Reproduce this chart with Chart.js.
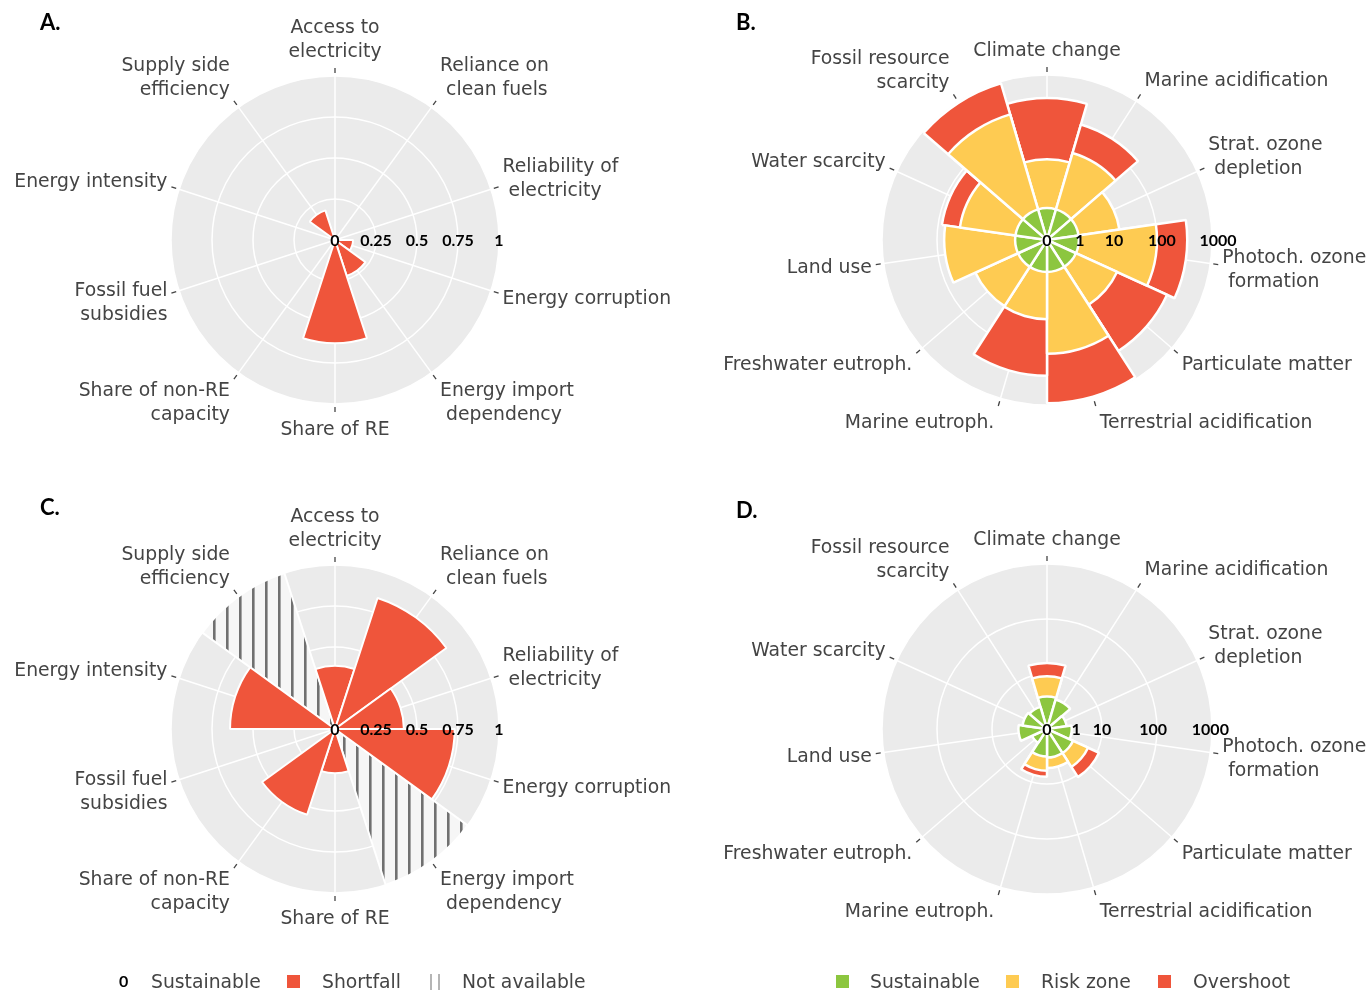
<!DOCTYPE html>
<html>
<head>
<meta charset="utf-8">
<title>Energy and environmental doughnut indicators</title>
<script src="https://cdn.jsdelivr.net/npm/chart.js@4.4.1/dist/chart.umd.min.js"></script>
<style>
  html, body { margin: 0; padding: 0; background: #fff; }
  #page { position: relative; width: 1368px; height: 992px; overflow: hidden; background: #fff; }
  canvas.panel { position: absolute; }
  .tag { position: absolute; font: 700 22px Lato, sans-serif; color: #000; }
  .lg { position: absolute; top: 971px; height: 24px; line-height: 24px; font: 18.8px "DejaVu Sans", sans-serif; color: #444; white-space: nowrap; }
  .sq { position: absolute; top: 975px; width: 13px; height: 13px; }
  .zero { position: absolute; top: 971px; line-height: 24px; font: 700 16px Lato, sans-serif; color: #000; }
  .bar { position: absolute; top: 974px; width: 2px; height: 16px; background: #b5b5b5; }
</style>
</head>
<body>
<div id="page">
  <canvas id="chartA" class="panel" width="684" height="496" style="left:0;top:0"></canvas>
  <canvas id="chartB" class="panel" width="684" height="496" style="left:684px;top:0"></canvas>
  <canvas id="chartC" class="panel" width="684" height="496" style="left:0;top:496px"></canvas>
  <canvas id="chartD" class="panel" width="684" height="496" style="left:684px;top:496px"></canvas>

  <div class="tag" style="left:40px;top:8px">A.</div>
  <div class="tag" style="left:736px;top:8px">B.</div>
  <div class="tag" style="left:40px;top:493px">C.</div>
  <div class="tag" style="left:736px;top:496px">D.</div>

  <div class="zero" style="left:119px">0</div>
  <div class="lg" style="left:151px">Sustainable</div>
  <div class="sq" style="left:287px;background:#ef553b"></div>
  <div class="lg" style="left:322px">Shortfall</div>
  <div class="bar" style="left:430px"></div>
  <div class="bar" style="left:438px"></div>
  <div class="lg" style="left:462px">Not available</div>

  <div class="sq" style="left:836px;background:#8cc63f"></div>
  <div class="lg" style="left:870px">Sustainable</div>
  <div class="sq" style="left:1006px;background:#fecb52"></div>
  <div class="lg" style="left:1041px">Risk zone</div>
  <div class="sq" style="left:1158px;background:#ef553b"></div>
  <div class="lg" style="left:1193px">Overshoot</div>
</div>

<script>
// ---- Energy indicators (panels A and C), scale 0..1, clockwise from the top ----
const energyCategories = [
  ['Access to', 'electricity'],
  ['Reliance on', 'clean fuels'],
  ['Reliability of', 'electricity'],
  ['Energy corruption'],
  ['Energy import', 'dependency'],
  ['Share of RE'],
  ['Share of non-RE', 'capacity'],
  ['Fossil fuel', 'subsidies'],
  ['Energy intensity'],
  ['Supply side', 'efficiency']
];
const shortfallA = [0, 0, 0, 0.11, 0.23, 0.63, 0, 0, 0, 0.19];
const shortfallC = [0.385, 0.84, 0.42, 0.73, 0, 0.27, 0.55, 0, 0.64, 0];
const notAvailableC = [0, 0, 0, 0, 1, 0, 0, 0, 0, 1];
const energyGrid = [0, 0.25, 0.5, 0.75, 1];
const energyTickPos = [0, 0.25, 0.5, 0.75, 1];
const energyTickText = ['0', '0.25', '0.5', '0.75', '1'];

// ---- Environmental impact indicators (panels B and D) ----
// Radial levels: 0.5 -> 1, 1 -> 10, 2 -> 100, 3 -> 1000
const impactCategories = [
  ['Climate change'],
  ['Marine acidification'],
  ['Strat. ozone', 'depletion'],
  ['Photoch. ozone', 'formation'],
  ['Particulate matter'],
  ['Terrestrial acidification'],
  ['Marine eutroph.'],
  ['Freshwater eutroph.'],
  ['Land use'],
  ['Water scarcity'],
  ['Fossil resource', 'scarcity']
];
const sustainableB = [0.58, 0.58, 0.58, 0.58, 0.58, 0.58, 0.58, 0.58, 0.58, 0.58, 0.58];
const riskB        = [1.47, 1.65, 1.33, 2.0, 1.4, 2.07, 1.44, 1.43, 1.87, 1.6, 2.38];
const overshootB   = [2.58, 2.19, 0, 2.55, 2.4, 2.97, 2.47, 0, 0, 1.93, 2.97];

const sustainableD = [0.59, 0.56, 0.36, 0.45, 0.52, 0.52, 0.5, 0.3, 0.52, 0.45, 0.42];
const riskD        = [0.96, 0, 0, 0, 0.82, 0.71, 0.76, 0, 0, 0, 0];
const overshootD   = [1.2, 0, 0, 0, 1.04, 0, 0.87, 0, 0, 0, 0];

const impactGrid = [0, 1, 2, 3];
const impactTickText = ['0', '1', '10', '100', '1000'];
const impactTickPosB = [0, 0.6, 1.22, 2.09, 3.11];
const impactTickPosD = [0, 0.53, 1.0, 1.93, 2.97];

const RED = '#ef553b', YELLOW = '#fecb52', GREEN = '#8cc63f', DISC = '#ebebeb';

function hatchPattern() {
  const c = document.createElement('canvas');
  c.width = 13; c.height = 13;
  const g = c.getContext('2d');
  g.fillStyle = '#f6f6f6';
  g.fillRect(0, 0, 13, 13);
  g.fillStyle = '#707070';
  g.fillRect(5, 0, 2.6, 13);
  return g.createPattern(c, 'repeat');
}

// Spokes through the middle of each sector, outer ticks, category labels
// and the radial value labels laid along the east direction.
const polarDecor = {
  id: 'polarDecor',
  beforeDatasetsDraw(chart) {
    const s = chart.scales.r, ctx = chart.ctx, n = chart.data.labels.length;
    ctx.save();
    ctx.strokeStyle = '#fff';
    ctx.lineWidth = 1.5;
    for (let i = 0; i < n; i++) {
      const p = s.getPointPosition(i, s.drawingArea, Math.PI / n);
      ctx.beginPath();
      ctx.moveTo(s.xCenter, s.yCenter);
      ctx.lineTo(p.x, p.y);
      ctx.stroke();
    }
    ctx.restore();
  },
  afterDatasetsDraw(chart, args, o) {
    const s = chart.scales.r, ctx = chart.ctx, labels = chart.data.labels, n = labels.length;
    const R = s.drawingArea, L = 24;
    ctx.save();
    ctx.strokeStyle = '#444';
    ctx.lineWidth = 1.3;
    ctx.fillStyle = '#444';
    ctx.font = '18.8px "DejaVu Sans"';
    ctx.textBaseline = 'middle';
    for (let i = 0; i < n; i++) {
      const a = s.getIndexAngle(i) - Math.PI / 2 + Math.PI / n;
      const cos = Math.cos(a), up = -Math.sin(a);
      const p0 = s.getPointPosition(i, R + 3, Math.PI / n);
      const p = s.getPointPosition(i, R + 8, Math.PI / n);
      ctx.beginPath();
      ctx.moveTo(p0.x, p0.y);
      ctx.lineTo(p.x, p.y);
      ctx.stroke();
      const lines = labels[i];
      const cy = p.y - up * (lines.length * L / 2 + 5) + 1;
      lines.forEach((t, j) => {
        const y = cy + (j - (lines.length - 1) / 2) * L;
        if (cos > 0.1) { ctx.textAlign = 'left'; ctx.fillText(t, p.x + 4 + (j ? 6 : 0), y); }
        else if (cos < -0.1) { ctx.textAlign = 'right'; ctx.fillText(t, p.x - 4, y); }
        else { ctx.textAlign = 'center'; ctx.fillText(t, p.x, y); }
      });
    }
    ctx.fillStyle = '#000';
    ctx.font = '700 16px Lato';
    ctx.textAlign = 'center';
    o.tickPos.forEach((v, k) => {
      ctx.fillText(o.tickText[k], s.xCenter + s.getDistanceFromCenterForValue(v), s.yCenter + 1);
    });
    ctx.restore();
  }
};

function makeChart(id, labels, datasets, max, grid, tickPos, tickText, pad) {
  return new Chart(document.getElementById(id), {
    type: 'polarArea',
    data: { labels, datasets },
    options: {
      responsive: false,
      animation: false,
      layout: { padding: pad },
      plugins: {
        legend: { display: false },
        tooltip: { enabled: false },
        polarDecor: { tickPos, tickText }
      },
      scales: {
        r: {
          min: 0,
          max,
          startAngle: -180 / labels.length,
          backgroundColor: DISC,
          grid: { circular: true, color: '#fff', lineWidth: 1.5 },
          angleLines: { display: false },
          pointLabels: { display: false },
          ticks: { display: false },
          afterBuildTicks: sc => { sc.ticks = grid.map(v => ({ value: v })); }
        }
      }
    },
    plugins: [polarDecor]
  });
}

const arc = (data, color, w) => ({ data, backgroundColor: color, borderColor: '#fff', borderWidth: w });

makeChart('chartA', energyCategories,
  [arc(shortfallA, RED, 2)],
  1, energyGrid, energyTickPos, energyTickText,
  { left: 171, top: 76, right: 185, bottom: 92 });

makeChart('chartB', impactCategories,
  [arc(sustainableB, GREEN, 2.5), arc(riskB, YELLOW, 2.5), arc(overshootB, RED, 2.5)],
  3, impactGrid, impactTickPosB, impactTickText,
  { left: 198, top: 75, right: 156, bottom: 91 });

makeChart('chartC', energyCategories,
  [arc(shortfallC, RED, 2), arc(notAvailableC, hatchPattern(), 2)],
  1, energyGrid, energyTickPos, energyTickText,
  { left: 171, top: 69, right: 185, bottom: 99 });

makeChart('chartD', impactCategories,
  [arc(sustainableD, GREEN, 2.5), arc(riskD, YELLOW, 2.5), arc(overshootD, RED, 2.5)],
  3, impactGrid, impactTickPosD, impactTickText,
  { left: 198, top: 68, right: 156, bottom: 98 });
</script>
</body>
</html>
